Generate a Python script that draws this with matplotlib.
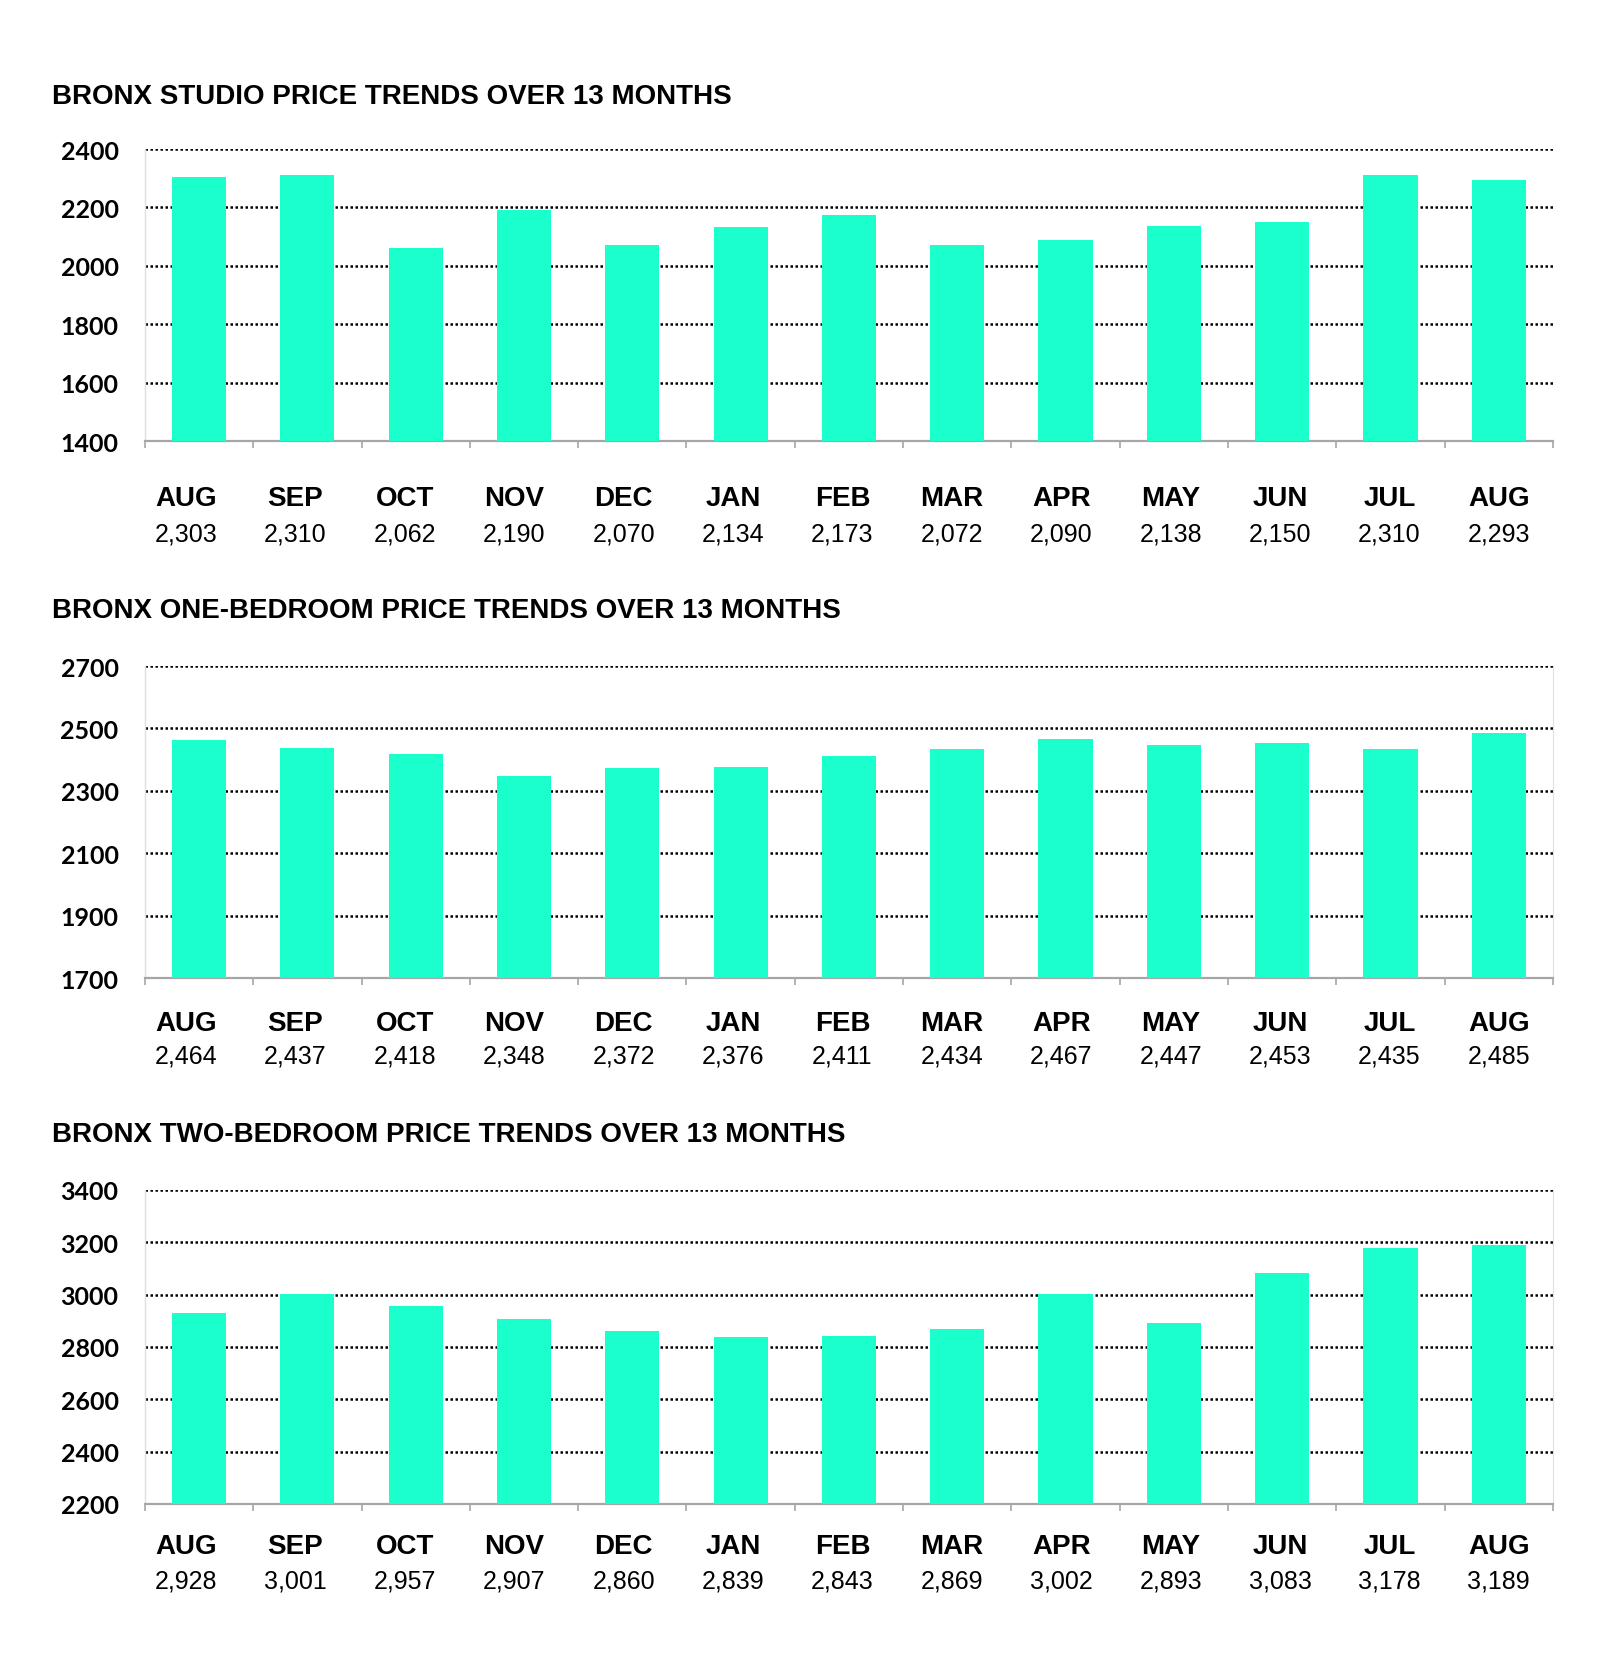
"""Bronx rental price trends over 13 months, three stacked bar charts."""

import matplotlib
matplotlib.use("Agg")
import matplotlib.pyplot as plt
import matplotlib.transforms as mtransforms
import numpy as np

months = ["AUG", "SEP", "OCT", "NOV", "DEC", "JAN", "FEB",
          "MAR", "APR", "MAY", "JUN", "JUL", "AUG"]

studio = [2303, 2310, 2062, 2190, 2070, 2134, 2173,
          2072, 2090, 2138, 2150, 2310, 2293]
one_bed = [2464, 2437, 2418, 2348, 2372, 2376, 2411,
           2434, 2467, 2447, 2453, 2435, 2485]
two_bed = [2928, 3001, 2957, 2907, 2860, 2839, 2843,
           2869, 3002, 2893, 3083, 3178, 3189]

titles = [
    "BRONX STUDIO PRICE TRENDS OVER 13 MONTHS",
    "BRONX ONE-BEDROOM PRICE TRENDS OVER 13 MONTHS",
    "BRONX TWO-BEDROOM PRICE TRENDS OVER 13 MONTHS",
]
y_ranges = [(1400, 2400, 200), (1700, 2700, 200), (2200, 3400, 200)]

BAR_COLOR = "#1AFFCC"

# axes boxes in figure fraction: left, bottom, width, height
panels = [
    ([0.0906, 0.7334, 0.880, 0.1761], 0.9414, 0.6990, 0.6779),
    ([0.0906, 0.4095, 0.880, 0.1882], 0.6314, 0.3826, 0.3628),
    ([0.0906, 0.0923, 0.880, 0.1894], 0.3153, 0.0668, 0.0462),
]


def draw_panel(fig, box, title_y, month_y, value_y, values, title, yr, right_spine):
    ax = fig.add_axes(box)
    x = np.arange(len(months))
    ax.bar(x, values, width=0.5, color=BAR_COLOR, zorder=3)

    lo, hi, step = yr
    ax.set_ylim(lo, hi)
    ax.set_xlim(-0.5, len(months) - 0.5)
    ax.set_yticks(np.arange(lo, hi + 1, step))
    ax.tick_params(axis="y", length=0, pad=19)
    for lab in ax.get_yticklabels():
        lab.set_fontfamily("Lato")
        lab.set_fontweight("bold")
        lab.set_fontsize(18)

    ax.set_xticks([])
    ax.set_xticks(np.arange(-0.5, len(months)), minor=True)
    ax.tick_params(axis="x", which="minor", length=5, width=1.2, color="#A6A6A6")

    ax.yaxis.grid(True, color="black", linestyle=(0, (1, 1)), linewidth=1.8)
    ax.set_axisbelow(True)

    ax.spines["top"].set_visible(False)
    ax.spines["left"].set_color("#E0E0E0")
    ax.spines["left"].set_linewidth(1.0)
    ax.spines["right"].set_visible(right_spine)
    ax.spines["right"].set_color("#E0E0E0")
    ax.spines["bottom"].set_color("#A6A6A6")
    ax.spines["bottom"].set_linewidth(1.6)

    # the category labels drift slightly left of the bars toward the left edge
    trans = mtransforms.blended_transform_factory(ax.transData, fig.transFigure)
    for i, (m, v) in enumerate(zip(months, values)):
        xi = i - 0.12 * (1 - i / 12)
        ax.text(xi, month_y, m, transform=trans, ha="center", va="center",
                fontsize=20, fontweight="bold", family="Liberation Sans")
        ax.text(xi, value_y, f"{v:,}", transform=trans, ha="center",
                va="center", fontsize=18, family="Liberation Sans")

    fig.text(0.0325, title_y, title, ha="left", va="center", fontsize=20,
             fontweight="bold", family="Liberation Sans")
    return ax


def main():
    fig = plt.figure(figsize=(16, 16.58), dpi=100)
    data = [studio, one_bed, two_bed]
    for k, (box, ty, my, vy) in enumerate(panels):
        draw_panel(fig, box, ty, my, vy, data[k], titles[k], y_ranges[k], k > 0)
    fig.savefig("out.png", dpi=100, facecolor="white")
    plt.close(fig)


if __name__ == "__main__":
    main()
